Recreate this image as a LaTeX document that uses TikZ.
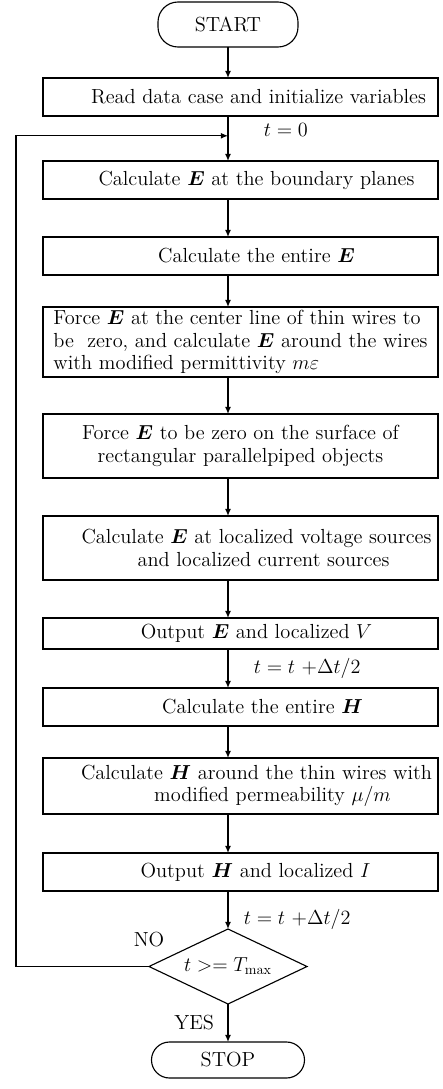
\documentclass[tikz,border=0pt]{standalone}
\usepackage{amsmath,amssymb}
\usepackage{bm}
\usetikzlibrary{arrows.meta,calc,positioning,shapes.geometric}

% pad on the left of a line, so it sits right of the box centre
\newcommand{\tpad}[1][0.8cm]{\hspace*{#1}}

\tikzset{
  procbox/.style={draw,line width=0.8pt,outer sep=0pt,minimum width=9.875cm,minimum height=0.95cm,inner sep=2pt,align=center,font=\fontsize{14.5}{16}\selectfont},
  termbox/.style={draw,line width=0.8pt,outer sep=0pt,inner sep=2pt,font=\fontsize{14.5}{16}\selectfont},
  decbox/.style={draw,diamond,aspect=2.1,line width=0.8pt,outer sep=0pt,inner sep=0pt,minimum width=3.95cm,minimum height=1.875cm,font=\fontsize{14.5}{16}\selectfont},
  lbl/.style={inner sep=1pt,font=\fontsize{14.5}{16}\selectfont},
  flow/.style={->,line width=0.8pt}
}

\begin{document}
\begin{tikzpicture}[>={Latex[length=1.8mm,width=1.5mm]},node distance=0.95cm]
  \useasboundingbox (0,0) rectangle (11.05,-27.225);
  \node[termbox,rounded corners=0.5cm,minimum width=3.5cm,minimum height=1.125cm] (start) at (5.7,-0.6125) {START};
  \node[procbox,below=0.775cm of start,xshift=0.3125cm] (read) {\tpad[0.9cm]Read data case and initialize variables};
  \node[procbox,below=1.125cm of read] (bnd) {\tpad Calculate $\bm{E}$ at the boundary planes};
  \node[procbox,below=of bnd] (entE) {\tpad Calculate the entire $\bm{E}$};
  \node[procbox,below=0.8cm of entE,minimum height=1.75cm,align=left] (wires) {Force $\bm{E}$ at the center line of thin wires to\\be\ \ zero, and calculate $\bm{E}$ around the wires\\with modified permittivity $m\varepsilon$};
  \node[procbox,below=0.925cm of wires,minimum height=1.6cm] (surf) {Force $\bm{E}$ to be zero on the surface of\\rectangular parallelpiped objects};
  \node[procbox,below=of surf,minimum height=1.6cm] (src) {\tpad Calculate $\bm{E}$ at localized voltage sources\\\tpad[1.15cm]and localized current sources};
  \node[procbox,below=of src,minimum height=0.775cm] (outE) {\tpad Output $\bm{E}$ and localized $V$};
  \node[procbox,below=0.975cm of outE] (entH) {\tpad[1.1cm]Calculate the entire $\bm{H}$};
  \node[procbox,below=0.8cm of entH,minimum height=1.4cm] (aroundH) {\tpad Calculate $\bm{H}$ around the thin wires with\\\tpad[1.6cm]modified permeability $\mu/m$};
  \node[procbox,below=0.975cm of aroundH] (outH) {\tpad[0.75cm]Output $\bm{H}$ and localized $I$};
  \node[decbox,below=of outH,xshift=-0.3125cm] (check) {$t\;{>}{=}\;T_{\max}$};
  \node[termbox,rounded corners=0.45cm,minimum width=3.825cm,minimum height=0.9cm,below=of check] (stop) {STOP};
  \node[lbl,above=0.45cm of check.west] (no) {NO};

  \coordinate (join) at ($(read.south -| start)!0.44!(bnd.north -| start)$);

  \draw[flow] (start) -- (start |- read.north);
  \draw[flow] (read.south -| start) -- node[lbl,right=0.85cm,pos=0.31] {$t = 0$} (bnd.north -| start);
  \draw[flow] (bnd.south -| start) -- (entE.north -| start);
  \draw[flow] (entE.south -| start) -- (wires.north -| start);
  \draw[flow] (wires.south -| start) -- (surf.north -| start);
  \draw[flow] (surf.south -| start) -- (src.north -| start);
  \draw[flow] (src.south -| start) -- (outE.north -| start);
  \draw[flow] (outE.south -| start) -- node[lbl,right=0.6cm,pos=0.49] {$t = t\ {+}\Delta t/2$} (entH.north -| start);
  \draw[flow] (entH.south -| start) -- (aroundH.north -| start);
  \draw[flow] (aroundH.south -| start) -- (outH.north -| start);
  \draw[flow] (outH.south -| start) -- node[lbl,right=0.35cm,pos=0.74] {$t = t\ {+}\Delta t/2$} (check);
  \draw[flow] (check) -- node[lbl,left=0.3cm,pos=0.5] {YES} (stop);
  \draw[flow] (check.west) -- ++(-3.325,0) |- (join);
\end{tikzpicture}
\end{document}
